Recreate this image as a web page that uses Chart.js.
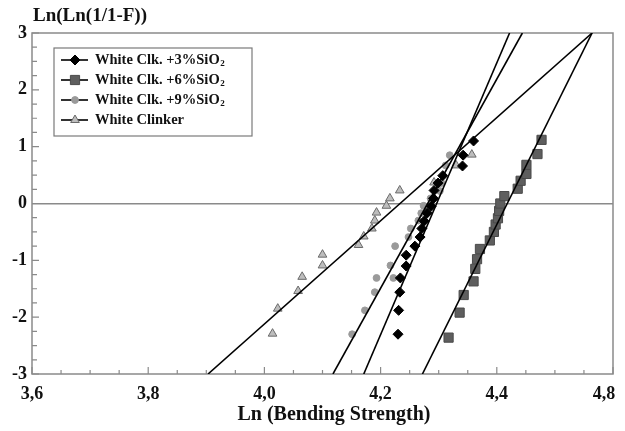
<!DOCTYPE html>
<html>
<head>
<meta charset="utf-8">
<script src="https://cdn.jsdelivr.net/npm/chart.js@4/dist/chart.umd.min.js"></script>
<style>
  html, body { margin: 0; padding: 0; background: #fff; }
</style>
</head>
<body>
<canvas id="weibullChart" width="625" height="431"></canvas>
<script>
// series labels (trailing ₂ is drawn as a subscript in the legend)
const seriesNames = ['White Clk. +3%SiO₂', 'White Clk. +6%SiO₂', 'White Clk. +9%SiO₂', 'White Clinker'];

// White Clk. +3%SiO2 (diamonds)
const clk3X = [4.230, 4.231, 4.233, 4.234, 4.244, 4.244, 4.259, 4.268, 4.271, 4.275, 4.280, 4.287, 4.291, 4.292, 4.299, 4.307, 4.341, 4.342, 4.360];
const clk3Y = [-2.30, -1.88, -1.56, -1.31, -1.10, -0.91, -0.75, -0.59, -0.44, -0.31, -0.17, -0.05, 0.09, 0.23, 0.36, 0.49, 0.66, 0.85, 1.10];

// White Clk. +6%SiO2 (squares)
const clk6X = [4.317, 4.336, 4.343, 4.360, 4.363, 4.366, 4.371, 4.388, 4.395, 4.398, 4.402, 4.404, 4.406, 4.413, 4.436, 4.441, 4.451, 4.451, 4.470, 4.477];
const clk6Y = [-2.36, -1.92, -1.61, -1.37, -1.15, -0.98, -0.80, -0.65, -0.50, -0.37, -0.26, -0.13, 0.00, 0.13, 0.26, 0.40, 0.52, 0.68, 0.87, 1.12];

// White Clk. +9%SiO2 (circles)
const clk9X = [4.151, 4.173, 4.190, 4.193, 4.222, 4.217, 4.225, 4.248, 4.252, 4.265, 4.270, 4.274, 4.286, 4.302, 4.305, 4.312, 4.319];
const clk9Y = [-2.30, -1.88, -1.56, -1.31, -1.31, -1.09, -0.75, -0.59, -0.44, -0.30, -0.17, -0.04, 0.09, 0.22, 0.36, 0.67, 0.85];

// White Clinker (triangles)
const clinkerX = [4.014, 4.023, 4.058, 4.065, 4.100, 4.100, 4.162, 4.171, 4.185, 4.190, 4.193, 4.210, 4.216, 4.233, 4.292, 4.330, 4.357];
const clinkerY = [-2.29, -1.85, -1.54, -1.29, -1.09, -0.90, -0.73, -0.58, -0.44, -0.30, -0.16, -0.04, 0.09, 0.23, 0.37, 0.67, 0.86];

// fitted lines: x where each line meets y = -3 and y = 3 (order as seriesNames)
const fitY = [-3, 3];
const fitStartX = [4.171, 4.272, 4.118, 3.903];
const fitEndX = [4.422, 4.564, 4.444, 4.564];

// axis tick labels (the original prints "4,8" at the right end)
const xTickValues = [3.6, 3.8, 4.0, 4.2, 4.4, 4.6];
const xTickLabels = ['3,6', '3,8', '4,0', '4,2', '4,4', '4,8\u2002\u2002'];
const yTickLabels = ['-3', '-2', '-1', '0', '1', '2', '3'];

const serif = '"Liberation Serif", "Times New Roman", serif';
const toPoints = (xs, ys) => xs.map((x, i) => ({ x: x, y: ys[i] }));

const markerStyles = [
  { pointStyle: 'rectRot', radius: 5, backgroundColor: '#000000', borderColor: '#000000', borderWidth: 1 },
  { pointStyle: 'rect', radius: 6.5, backgroundColor: '#5e5e5e', borderColor: '#4a4a4a', borderWidth: 1 },
  { pointStyle: 'circle', radius: 3.4, backgroundColor: '#9a9a9a', borderColor: '#9a9a9a', borderWidth: 1 },
  { pointStyle: 'triangle', radius: 5, backgroundColor: '#bdbdbd', borderColor: '#6a6a6a', borderWidth: 1 }
];

const pointSets = [toPoints(clk3X, clk3Y), toPoints(clk6X, clk6Y), toPoints(clk9X, clk9Y), toPoints(clinkerX, clinkerY)];

const datasets = [];
fitStartX.forEach((x0, i) => {
  datasets.push({
    label: 'fit ' + i,
    data: [{ x: x0, y: fitY[0] }, { x: fitEndX[i], y: fitY[1] }],
    showLine: true,
    borderColor: '#000',
    borderWidth: 1.6,
    pointRadius: 0,
    order: 0
  });
});
pointSets.forEach((pts, i) => {
  const m = markerStyles[i];
  datasets.push({
    label: seriesNames[i],
    data: pts,
    showLine: false,
    pointStyle: m.pointStyle,
    pointRadius: m.radius,
    pointBackgroundColor: m.backgroundColor,
    pointBorderColor: m.borderColor,
    pointBorderWidth: m.borderWidth,
    order: 1
  });
});

// frame, inward ticks, titles and the boxed legend
const decorations = {
  id: 'decorations',
  beforeDatasetsDraw(chart) {
    const { ctx, chartArea: a, scales } = chart;
    ctx.save();
    ctx.strokeStyle = '#8a8a8a';
    ctx.lineWidth = 1.5;
    ctx.strokeRect(a.left, a.top, a.right - a.left, a.bottom - a.top);
    ctx.lineWidth = 1.2;
    ctx.beginPath();
    for (let k = 0; k <= 20; k++) {
      const px = scales.x.getPixelForValue(3.6 + k * 0.05);
      const len = k % 4 === 0 ? 7 : 4;
      ctx.moveTo(px, a.bottom);
      ctx.lineTo(px, a.bottom - len);
    }
    for (let k = 0; k <= 24; k++) {
      const py = scales.y.getPixelForValue(-3 + k * 0.25);
      const len = k % 4 === 0 ? 7 : 5;
      ctx.moveTo(a.left, py);
      ctx.lineTo(a.left + len, py);
    }
    ctx.stroke();
    ctx.restore();
  },
  afterDraw(chart) {
    const { ctx, chartArea: a } = chart;
    ctx.save();
    ctx.fillStyle = '#111';
    ctx.font = 'bold 19px ' + serif;
    ctx.textBaseline = 'middle';
    ctx.textAlign = 'left';
    ctx.fillText('Ln(Ln(1/1-F))', a.left + 1, 16);
    ctx.font = 'bold 20px ' + serif;
    ctx.textAlign = 'center';
    ctx.fillText('Ln (Bending Strength)', 334, 415);

    // legend
    const bx = 54, by = 48, bw = 198, bh = 88;
    ctx.fillStyle = '#fff';
    ctx.fillRect(bx, by, bw, bh);
    ctx.strokeStyle = '#7a7a7a';
    ctx.lineWidth = 1.2;
    ctx.strokeRect(bx, by, bw, bh);
    seriesNames.forEach((name, i) => {
      const y = 60 + i * 20;
      const m = markerStyles[i];
      ctx.strokeStyle = '#000';
      ctx.lineWidth = 1.6;
      ctx.beginPath();
      ctx.moveTo(61, y);
      ctx.lineTo(88, y);
      ctx.stroke();
      ctx.fillStyle = m.backgroundColor;
      ctx.strokeStyle = m.borderColor;
      ctx.lineWidth = m.borderWidth;
      Chart.helpers.drawPoint(ctx, { pointStyle: m.pointStyle, radius: m.radius, rotation: 0, borderWidth: m.borderWidth }, 75, y);
      ctx.fillStyle = '#111';
      ctx.textAlign = 'left';
      ctx.textBaseline = 'middle';
      ctx.font = 'bold 14.5px ' + serif;
      const hasSub = name.endsWith('₂');
      const main = hasSub ? name.slice(0, -1) : name;
      ctx.fillText(main, 95, y);
      if (hasSub) {
        const w = ctx.measureText(main).width;
        ctx.font = 'bold 9px ' + serif;
        ctx.fillText('2', 95 + w + 0.5, y + 4);
      }
    });
    ctx.restore();
  }
};

new Chart(document.getElementById('weibullChart').getContext('2d'), {
  type: 'scatter',
  data: { datasets: datasets },
  options: {
    responsive: false,
    animation: false,
    layout: { padding: { top: 33, right: 12, left: 0, bottom: 0 } },
    plugins: { legend: { display: false }, tooltip: { enabled: false } },
    scales: {
      x: {
        type: 'linear',
        min: 3.6,
        max: 4.6,
        afterFit: s => { s.height = 57; s.paddingLeft = 0; s.paddingRight = 0; },
        afterBuildTicks: s => { s.ticks = xTickValues.map(v => ({ value: v })); },
        ticks: {
          padding: 2,
          color: '#111',
          font: { family: serif, size: 18, weight: 'bold' },
          callback: (v, i) => xTickLabels[i]
        },
        grid: { display: false },
        border: { display: false }
      },
      y: {
        min: -3,
        max: 3,
        afterFit: s => { s.width = 32; s.paddingTop = 0; s.paddingBottom = 0; },
        ticks: {
          stepSize: 1,
          padding: 5,
          color: '#111',
          font: { family: serif, size: 18, weight: 'bold' },
          callback: (v, i) => yTickLabels[i]
        },
        grid: {
          drawTicks: false,
          lineWidth: 1.5,
          color: c => (c.tick && c.tick.value === 0 ? '#8a8a8a' : 'rgba(0,0,0,0)')
        },
        border: { display: false }
      }
    }
  },
  plugins: [decorations]
});
</script>
</body>
</html>
